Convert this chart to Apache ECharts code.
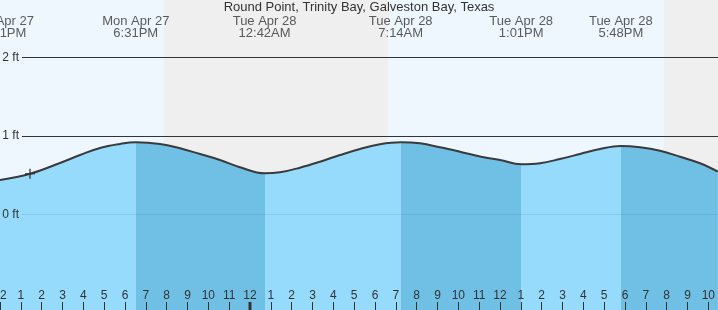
<!DOCTYPE html>
<html><head><meta charset="utf-8">
<script src="https://cdn.jsdelivr.net/npm/echarts@6/dist/echarts.min.js"></script>
<style>html,body{margin:0;padding:0;background:#eef7fe;overflow:hidden}#c{width:718px;height:310px}</style>
</head><body><div id="c"></div>
<script>
// ---- data (hours measured from Mon Apr 27 12:00 PM) ----
const titleText = 'Round Point, Trinity Bay, Galveston Bay, Texas';
const tideHours = [0.0, 1.44, 2.88, 3.84, 4.80, 5.76, 6.517, 7.68, 8.64, 9.60, 10.56, 11.52, 12.70, 13.44, 14.40, 15.36, 16.32, 17.28, 18.24, 19.233, 20.16, 21.12, 22.08, 23.04, 24.00, 25.017, 25.92, 26.88, 27.84, 28.80, 29.80, 30.72, 31.68, 32.64, 33.60, 34.46];
const tideFeet  = [0.437, 0.517, 0.654, 0.755, 0.845, 0.896, 0.917, 0.896, 0.841, 0.768, 0.692, 0.600, 0.522, 0.535, 0.594, 0.670, 0.755, 0.832, 0.892, 0.917, 0.904, 0.854, 0.797, 0.736, 0.692, 0.637, 0.650, 0.704, 0.768, 0.832, 0.870, 0.854, 0.810, 0.734, 0.650, 0.543];
const eventHours = [0.017, 6.517, 12.7, 19.233, 25.017, 29.8];
const eventTypes = ['L', 'H', 'L', 'H', 'L', 'H'];
const eventDates = ['Mon Apr 27', 'Mon Apr 27', 'Tue Apr 28', 'Tue Apr 28', 'Tue Apr 28', 'Tue Apr 28'];
const eventTimes = ['12:01PM', '6:31PM', '12:42AM', '7:14AM', '1:01PM', '5:48PM'];
const nightStart = [7.87, 31.87];
const nightEnd = [18.62, 42.6];
const clockLabels = ['12', '1', '2', '3', '4', '5', '6', '7', '8', '9', '10', '11'];
const midnightHours = [12];
const yTickLabels = ['0 ft', '1 ft', '2 ft'];
const nowHour = [1.44];
const nowFeet = [0.517];

// ---- layout / style ----
const X_MIN = 0, X_MAX = 34.464;
const Y_MIN = -1.2191, Y_MAX = 2.7299;
const LABEL_Y = 2.386;
const FONT = 'Liberation Sans, Arial, sans-serif';
const RISING = '#96dbfc', FALLING = '#70c0e5';
const DAY = '#eef7fe', NIGHT = '#efefef';
const INK = '#333';

const tideData = tideHours.map((h, i) => [h, tideFeet[i]]);
const pieces = [{ lt: eventHours[0], color: FALLING }];
eventHours.forEach((h, i) => {
  const p = { gte: h, color: eventTypes[i] === 'L' ? RISING : FALLING };
  if (i + 1 < eventHours.length) p.lt = eventHours[i + 1];
  pieces.push(p);
});

const chart = echarts.init(document.getElementById('c'), null, { renderer: 'canvas' });
chart.setOption({
  animation: false,
  backgroundColor: DAY,
  title: {
    text: titleText, left: 'center', top: 0, padding: [1, 0, 0, 0],
    textStyle: { fontSize: 13, fontWeight: 'normal', color: INK, fontFamily: FONT }
  },
  grid: [
    { left: 0, right: 0, top: 0, bottom: 0, containLabel: false, outerBoundsMode: 'none' },
    { left: 22, right: 0, top: 57.3, bottom: 95.7, containLabel: false, outerBoundsMode: 'none' }
  ],
  xAxis: [
    {
      type: 'value', gridIndex: 0, min: X_MIN, max: X_MAX, interval: 1,
      axisLine: { show: false, onZero: false }, splitLine: { show: false },
      axisTick: { inside: true, length: 8, lineStyle: { color: INK, width: 1 } },
      axisLabel: {
        inside: true, margin: 8, fontSize: 12, color: INK, fontFamily: FONT,
        showMinLabel: true, showMaxLabel: false,
        formatter: v => clockLabels[((Math.round(v) % 12) + 12) % 12]
      },
      z: 3
    },
    { type: 'value', gridIndex: 1, min: 0, max: 1, show: false, axisLine: { onZero: false } }
  ],
  yAxis: [
    { type: 'value', gridIndex: 0, min: Y_MIN, max: Y_MAX, show: false, axisLine: { onZero: false } },
    {
      type: 'value', gridIndex: 1, min: 0, max: 2, interval: 1, z: 3,
      axisLine: { show: false, onZero: false }, axisTick: { show: false },
      axisLabel: { margin: 3, fontSize: 12, color: INK, fontFamily: FONT, formatter: v => yTickLabels[v] },
      splitLine: { show: true, showMinLine: true, showMaxLine: true,
        lineStyle: { color: ['rgba(0,70,130,0.12)', INK, INK], width: 1 } }
    }
  ],
  visualMap: { type: 'piecewise', show: false, dimension: 0, seriesIndex: 1, pieces: pieces },
  series: [
    {
      type: 'line', xAxisIndex: 0, yAxisIndex: 0, data: [], z: 1, silent: true,
      markArea: {
        silent: true,
        itemStyle: { color: NIGHT },
        data: nightStart.map((s, i) => [{ xAxis: s }, { xAxis: nightEnd[i] }])
      }
    },
    {
      type: 'line', xAxisIndex: 0, yAxisIndex: 0, data: tideData, smooth: 0.4,
      symbol: 'none', lineStyle: { width: 0 }, areaStyle: { origin: 'start', opacity: 1 },
      z: 2, silent: true
    },
    {
      type: 'line', xAxisIndex: 0, yAxisIndex: 0, data: tideData, smooth: 0.4,
      symbol: 'none', lineStyle: { width: 2, color: '#3a3a3a' }, z: 4, silent: true
    },
    {
      type: 'custom', xAxisIndex: 0, yAxisIndex: 0, z: 5, silent: true,
      data: midnightHours.map(h => [h, Y_MIN]),
      renderItem: (params, api) => {
        const p = api.coord([api.value(0), api.value(1)]);
        return { type: 'rect', shape: { x: p[0] - 1.5, y: p[1] - 8, width: 3, height: 8 }, style: { fill: INK } };
      }
    },
    {
      type: 'scatter', xAxisIndex: 0, yAxisIndex: 0, z: 6, silent: true,
      symbol: 'path://M4,0h1.5v4h4v1.5h-4v4h-1.5v-4h-4v-1.5h4z', symbolSize: 10,
      itemStyle: { color: INK },
      data: nowHour.map((h, i) => [h, nowFeet[i]])
    },
    {
      type: 'scatter', xAxisIndex: 0, yAxisIndex: 0, z: 6, silent: true, symbolSize: 0,
      data: eventHours.map(h => [h, LABEL_Y]),
      label: {
        show: true, position: 'inside', fontSize: 13, lineHeight: 12, color: INK, fontFamily: FONT,
        formatter: p => eventDates[p.dataIndex] + '\n' + eventTimes[p.dataIndex]
      }
    }
  ]
});
</script></body></html>
